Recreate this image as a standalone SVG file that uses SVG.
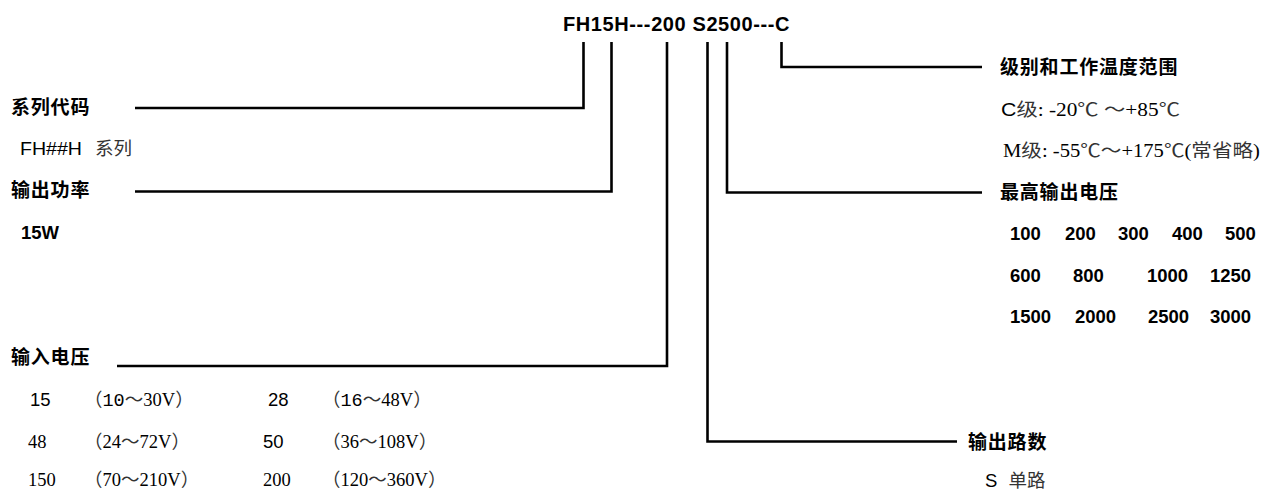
<svg xmlns="http://www.w3.org/2000/svg" width="1262" height="491" viewBox="0 0 1262 491">
<style>
.ln{fill:none;stroke:#000;stroke-width:2.6;stroke-linecap:butt;stroke-linejoin:miter}
.t{font-family:"Liberation Sans","Noto Sans CJK SC",sans-serif;fill:#000}
.title{font-size:20px;font-weight:bold;letter-spacing:0.6px}
.lab{font-family:"Noto Sans CJK SC","Liberation Sans",sans-serif;font-size:19px;font-weight:bold;fill:#000;letter-spacing:0.8px}
.sans{font-family:"Liberation Sans","Noto Sans CJK SC",sans-serif;font-size:18.5px;fill:#000}
.serif{font-family:"Liberation Serif","Noto Sans CJK SC",serif;font-size:18.5px;fill:#000}
.mono{font-family:"Liberation Mono","Noto Sans CJK SC",monospace}
.cjk{font-family:"Noto Sans CJK SC",sans-serif;fill:#333}
.num{font-family:"Liberation Sans",sans-serif;font-size:18.5px;font-weight:bold;fill:#000}
</style>
<rect width="1262" height="491" fill="#fff"/>
<g id="title"><text class="t title" x="563" y="31">FH15H---200 S2500---C</text></g>
<g id="connectors">
<polyline class="ln" points="583.5,42 583.5,108 135,108"/>
<polyline class="ln" points="611.5,42 611.5,191.5 135,191.5"/>
<polyline class="ln" points="667,42 667,366 117,366"/>
<polyline class="ln" points="707.5,42 707.5,441.5 957,441.5"/>
<polyline class="ln" points="727,42 727,192.5 982,192.5"/>
<polyline class="ln" points="781.5,42 781.5,67 982,67"/>
</g>
<g id="series">
<text class="lab" x="11" y="114">系列代码</text>
<text class="sans" x="20" y="155" textLength="62" lengthAdjust="spacingAndGlyphs">FH##H</text>
<text class="sans cjk" x="95" y="155">系列</text>
</g>
<g id="power">
<text class="lab" x="11" y="197">输出功率</text>
<text class="num" x="21" y="239">15W</text>
</g>
<g id="input">
<text class="lab" x="11" y="364">输入电压</text>
<text class="sans" x="30" y="406">15</text>
<text class="serif" x="84" y="406"><tspan class="cjk">（</tspan><tspan class="mono">10</tspan><tspan class="cjk">～</tspan>30V<tspan class="cjk">）</tspan></text>
<text class="sans" x="268" y="406">28</text>
<text class="serif" x="322" y="406"><tspan class="cjk">（</tspan><tspan class="mono">16</tspan><tspan class="cjk">～</tspan>48V<tspan class="cjk">）</tspan></text>
<text class="serif" x="28" y="448">48</text>
<text class="serif" x="84" y="448"><tspan class="cjk">（</tspan>24<tspan class="cjk">～</tspan>72V<tspan class="cjk">）</tspan></text>
<text class="sans" x="263" y="448">50</text>
<text class="serif" x="322" y="448"><tspan class="cjk">（</tspan>36<tspan class="cjk">～</tspan>108V<tspan class="cjk">）</tspan></text>
<text class="serif" x="28" y="486">150</text>
<text class="serif" x="84" y="486"><tspan class="cjk">（</tspan>70<tspan class="cjk">～</tspan>210V<tspan class="cjk">）</tspan></text>
<text class="serif" x="263" y="486">200</text>
<text class="serif" x="322" y="486"><tspan class="cjk">（</tspan>120<tspan class="cjk">～</tspan>360V<tspan class="cjk">）</tspan></text>
</g>
<g id="grade">
<text class="lab" x="1000" y="74">级别和工作温度范围</text>
<text class="serif" x="1001" y="116" textLength="179" lengthAdjust="spacingAndGlyphs"><tspan class="sans">C</tspan><tspan class="cjk">级</tspan>: -20<tspan class="cjk">℃</tspan>  <tspan class="cjk">～</tspan>+85<tspan class="cjk">℃</tspan></text>
<text class="serif" x="1003" y="157" textLength="257" lengthAdjust="spacingAndGlyphs">M<tspan class="cjk">级</tspan>: -55<tspan class="cjk">℃～</tspan>+175<tspan class="cjk">℃</tspan>(<tspan class="cjk">常省略</tspan>)</text>
</g>
<g id="voltage">
<text class="lab" x="1000" y="199">最高输出电压</text>
<text class="num" x="1010" y="240">100</text>
<text class="num" x="1065" y="240">200</text>
<text class="num" x="1118" y="240">300</text>
<text class="num" x="1172" y="240">400</text>
<text class="num" x="1225" y="240">500</text>
<text class="num" x="1010" y="282">600</text>
<text class="num" x="1073" y="282">800</text>
<text class="num" x="1147" y="282">1000</text>
<text class="num" x="1210" y="282">1250</text>
<text class="num" x="1010" y="323">1500</text>
<text class="num" x="1075" y="323">2000</text>
<text class="num" x="1148" y="323">2500</text>
<text class="num" x="1210" y="323">3000</text>
</g>
<g id="channels">
<text class="lab" x="968" y="449">输出路数</text>
<text class="sans" x="985" y="487">S <tspan class="cjk" dx="6">单路</tspan></text>
</g>
</svg>
